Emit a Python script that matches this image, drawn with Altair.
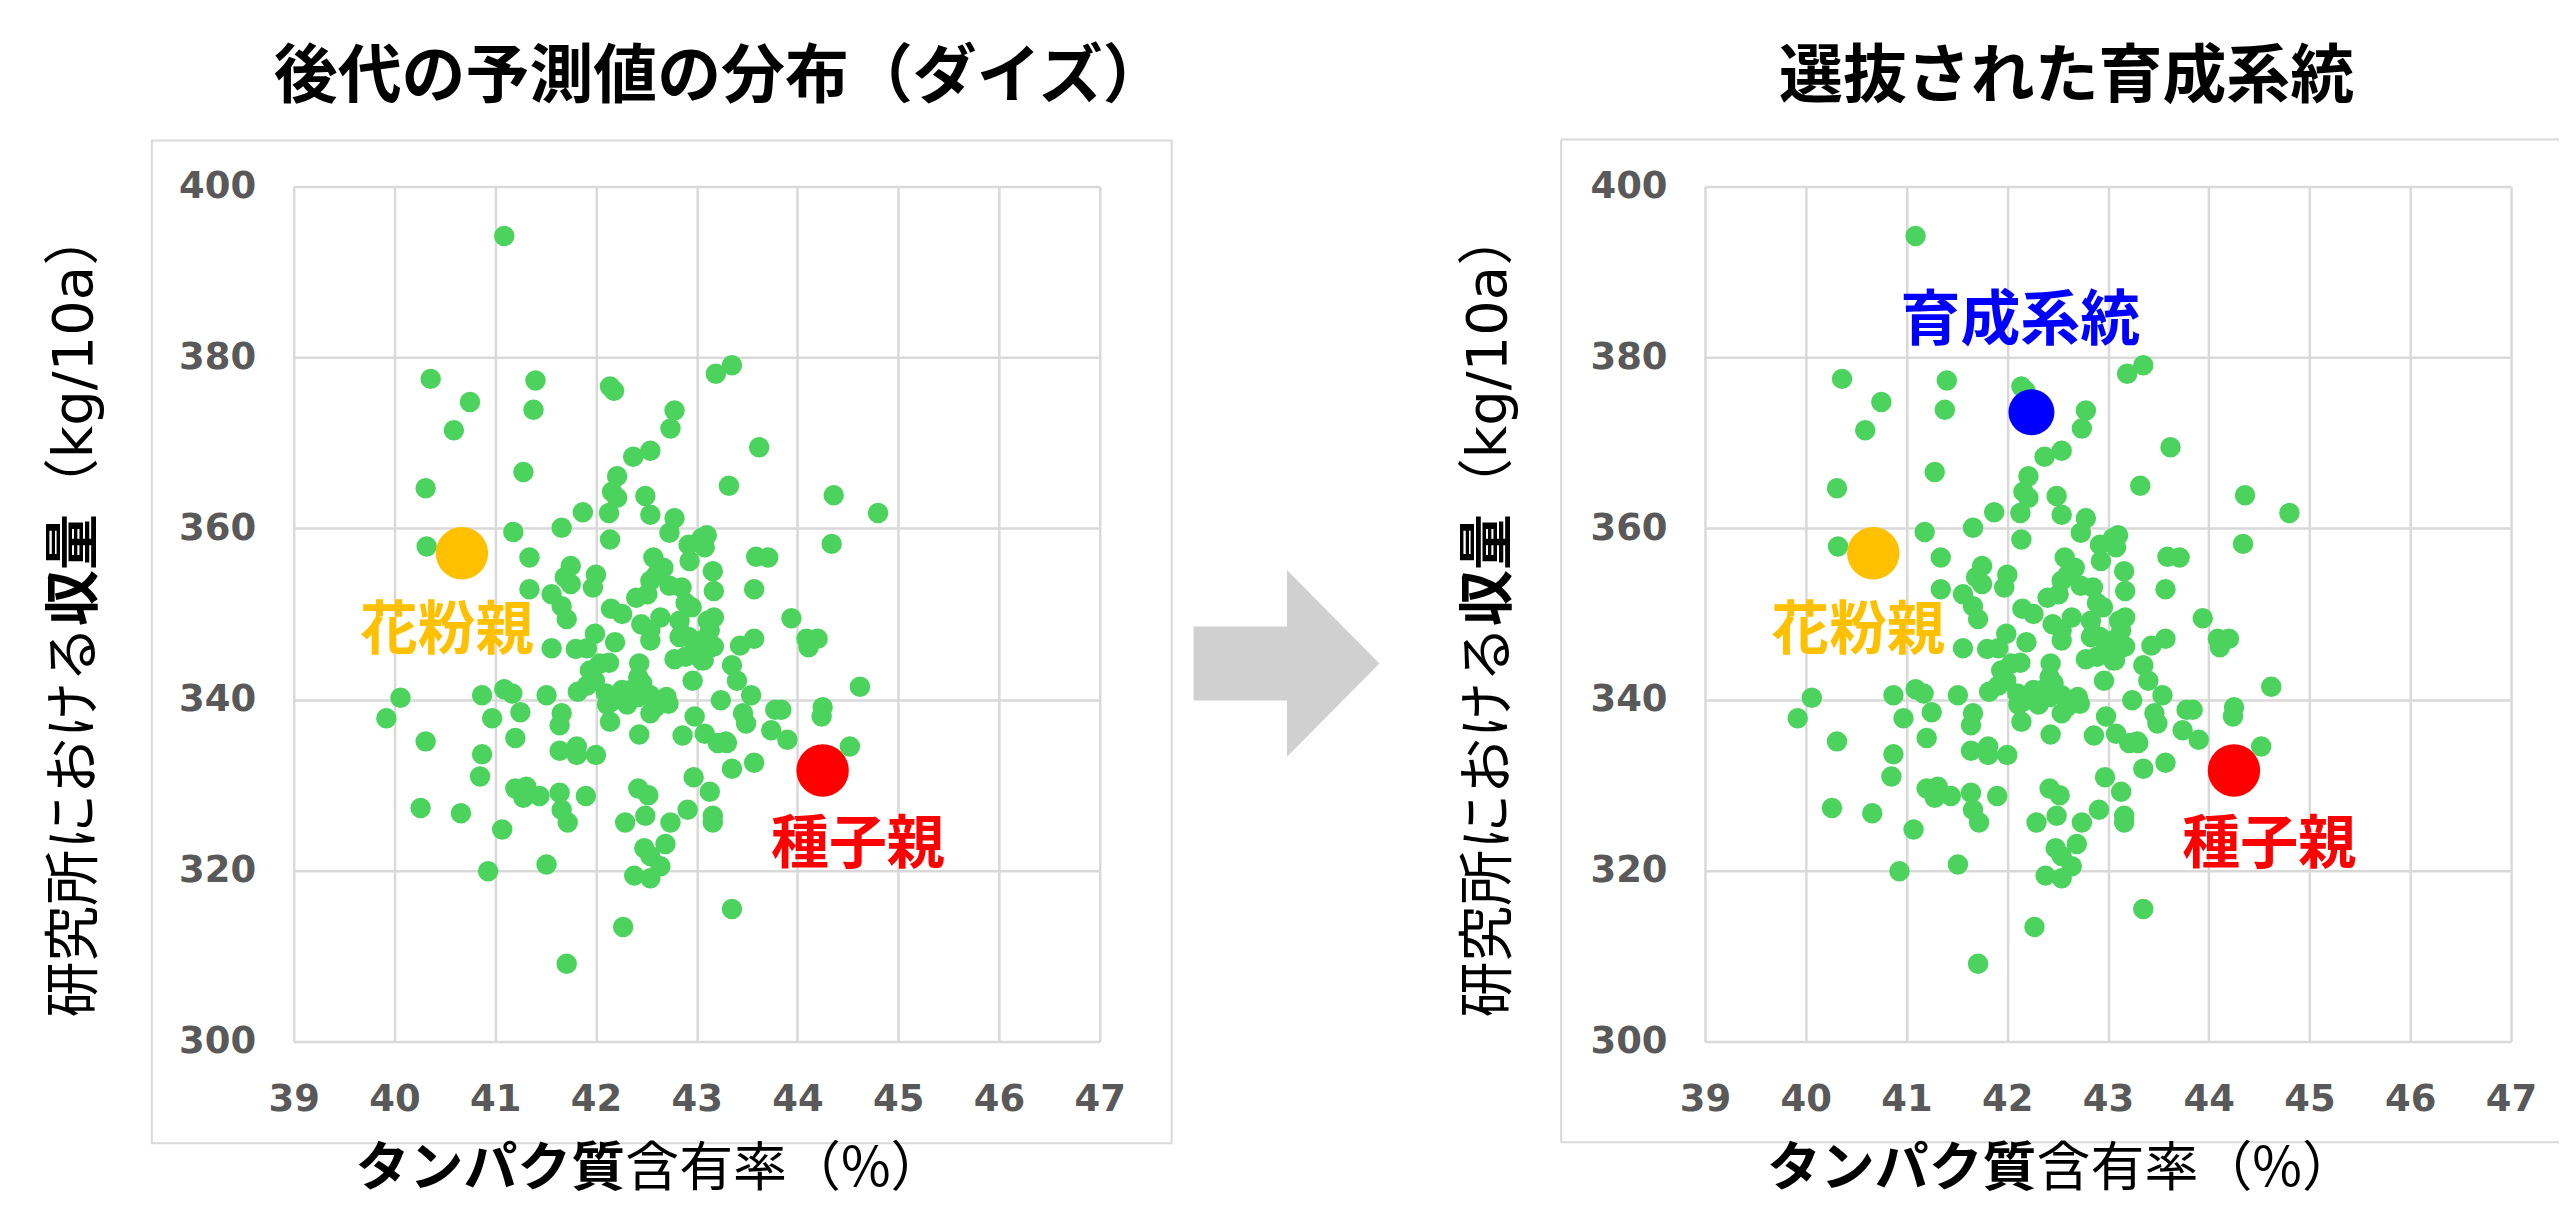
import altair as alt
import pandas as pd

# ---------------- data ----------------
green_x = [41.09, 40.36, 41.40, 43.19, 43.35, 42.14, 42.18, 40.75, 41.38, 42.78,
           42.74, 40.59, 43.62, 42.37, 42.54, 41.28, 40.31, 42.21, 42.16, 42.21,
           42.13, 42.49, 42.54, 43.32, 44.36, 44.80, 41.87, 42.78, 42.73, 41.66,
           41.18, 42.14, 44.34, 40.32, 42.92, 43.05, 43.08, 42.93, 41.34, 42.57,
           42.67, 43.59, 43.71, 41.75, 41.69, 41.75, 42.00, 41.97, 43.16, 43.17,
           41.34, 41.56, 42.54, 42.60, 42.73, 42.85, 43.57, 42.40, 42.51, 42.89,
           42.95, 42.15, 42.26, 41.66, 41.71, 43.94, 42.45, 42.54, 42.64, 42.83,
           42.85, 43.11, 43.17, 43.13, 41.99, 42.19, 42.54, 42.83, 42.92, 43.05,
           43.14, 43.57, 43.43, 44.09, 44.20, 44.11, 41.56, 41.80, 41.91, 42.78,
           42.89, 42.98, 43.05, 42.04, 42.13, 42.43, 43.35, 43.40, 42.96, 42.42,
           42.46, 41.94, 41.99, 41.09, 41.17, 40.87, 41.51, 41.82, 41.91, 42.10,
           42.16, 42.26, 42.35, 42.29, 42.42, 42.54, 42.59, 42.70, 43.24, 43.54,
           43.46, 43.49, 40.06, 39.92, 40.97, 41.25, 41.66, 41.64, 42.14, 42.54,
           42.98, 43.08, 43.78, 43.84, 43.74, 43.90, 44.25, 44.24, 44.62, 40.31,
           41.20, 42.43, 42.86, 43.21, 43.29, 44.52, 40.87, 41.64, 41.81, 41.81,
           42.00, 43.35, 43.57, 40.85, 42.97, 41.20, 41.31, 41.28, 41.44, 41.64,
           41.66, 41.72, 41.90, 42.42, 42.52, 42.49, 43.13, 43.16, 43.16, 42.91,
           40.26, 40.66, 41.07, 42.29, 42.74, 42.48, 42.54, 42.69, 42.64, 42.38,
           42.54, 41.51, 40.93, 43.35, 42.27, 41.71, 42.11, 42.31, 42.72, 43.10,
           43.17, 43.07, 43.30]
green_y = [394.2, 377.5, 377.3, 378.1, 379.1, 376.6, 376.1, 374.8, 373.9, 373.8,
           371.7, 371.5, 369.5, 368.4, 369.1, 366.6, 364.7, 366.1, 364.3, 363.6,
           361.8, 363.8, 361.6, 365.0, 363.9, 361.8, 361.9, 361.2, 359.5, 360.1,
           359.6, 358.7, 358.2, 357.9, 358.1, 358.9, 357.8, 356.2, 356.6, 356.6,
           355.4, 356.7, 356.6, 355.6, 354.3, 353.5, 354.6, 353.1, 355.0, 352.7,
           352.9, 352.3, 353.9, 354.6, 353.3, 353.1, 352.9, 351.9, 352.3, 351.3,
           350.8, 350.6, 350.0, 350.9, 349.4, 349.5, 348.8, 348.1, 349.6, 349.2,
           347.7, 349.2, 349.6, 348.1, 347.7, 346.7, 346.9, 347.3, 347.3, 346.9,
           346.1, 347.1, 346.3, 347.1, 347.1, 346.1, 346.0, 345.9, 346.0, 344.7,
           345.0, 345.3, 344.6, 344.2, 344.3, 344.2, 344.0, 342.2, 342.2, 342.6,
           341.9, 343.4, 342.2, 341.2, 340.7, 340.5, 340.5, 340.9, 341.6, 340.7,
           339.8, 341.1, 341.1, 339.9, 340.3, 340.5, 339.1, 340.3, 339.9, 340.5,
           338.4, 337.2, 340.2, 337.8, 337.8, 338.5, 338.4, 337.0, 337.4, 338.4,
           338.0, 336.0, 338.8, 338.8, 336.4, 335.3, 339.1, 338.0, 341.5, 335.1,
           335.5, 335.9, 335.8, 334.9, 335.1, 334.5, 333.6, 334.0, 334.5, 333.5,
           333.5, 331.9, 332.6, 331.0, 330.9, 329.6, 329.8, 328.5, 328.7, 329.1,
           327.1, 325.6, 328.7, 329.6, 328.8, 326.4, 329.2, 326.4, 325.6, 327.1,
           327.3, 326.7, 324.8, 325.6, 325.6, 322.6, 321.7, 323.1, 320.5, 319.4,
           319.1, 320.7, 319.9, 315.5, 313.4, 309.1, 339.4, 339.4, 339.5, 359.2,
           346.2, 344.6, 334.9]

parent_names = ["花粉親", "種子親"]
parent_x = [40.67, 44.25]
parent_y = [357.1, 331.7]
parent_colors = ["#FFC000", "#FF0000"]
parent_label_x = [40.52, 44.60]
parent_label_y = [347.9, 322.9]

line_name = ["育成系統"]
line_x = [42.24]
line_y = [373.6]
line_label_x = [42.13]
line_label_y = [384.1]

x_ticks = [39, 40, 41, 42, 43, 44, 45, 46, 47]
y_ticks = [300, 320, 340, 360, 380, 400]

titles = ["後代の予測値の分布（ダイズ）", "選抜された育成系統"]
y_title_parts = ["研究所における", "収量", "（", "kg/10a", "）"]
x_title_parts = ["タンパク質", "含有率（%）"]

# ---------------- style ----------------
JP = "Noto Sans CJK JP"
GREEN = "#4BD35E"
GRID = "#D9D9D9"
W, H = 807, 856

green_df = pd.DataFrame({"x": green_x, "y": green_y})
parent_df = pd.DataFrame({"name": parent_names, "x": parent_x, "y": parent_y,
                          "c": parent_colors, "lx": parent_label_x, "ly": parent_label_y})
line_df = pd.DataFrame({"name": line_name, "x": line_x, "y": line_y,
                        "lx": line_label_x, "ly": line_label_y})

xscale = alt.Scale(domain=[39, 47], nice=False, zero=False)
yscale = alt.Scale(domain=[300, 400], nice=False, zero=False)

axis_common = dict(grid=True, gridColor=GRID, gridWidth=2.5, domain=False, ticks=False,
                   labelFont="DejaVu Sans", labelFontWeight="bold", labelColor="#595959",
                   labelFontSize=37, labelFlush=False, labelOverlap=False, title=None,
                   format="d")
xaxis = alt.Axis(values=x_ticks, labelPadding=40, **axis_common)
yaxis = alt.Axis(values=y_ticks, labelPadding=38, **axis_common)


def text_layer(txt, x, y, size, weight="normal", color="black", align="center", angle=0,
               font=JP):
    return alt.Chart(pd.DataFrame({"t": [txt]})).mark_text(
        align=align, baseline="middle", font=font, fontSize=size, fontWeight=weight,
        color=color, angle=angle
    ).encode(x=alt.value(x), y=alt.value(y), text="t:N")


def panel(title, title_x, ytitle_x, left_panel):
    layers = []
    if left_panel:
        # invisible frame fixing the whole picture's extent
        layers.append(alt.Chart(pd.DataFrame({"a": [0]})).mark_rect(opacity=0).encode(
            x=alt.value(-285), x2=alt.value(2268), y=alt.value(-177), y2=alt.value(1019)))
        layers.append(alt.Chart(pd.DataFrame({"a": [0]})).mark_rect(
            fillOpacity=0, stroke=GRID, strokeWidth=2).encode(
            x=alt.value(-142), x2=alt.value(879), y=alt.value(-46), y2=alt.value(958)))
    else:
        box = alt.Chart(pd.DataFrame({"a": [0]}))
        layers.append(box.mark_rule(color=GRID, strokeWidth=2).encode(
            x=alt.value(-144), x2=alt.value(855), y=alt.value(-47)))
        layers.append(box.mark_rule(color=GRID, strokeWidth=2).encode(
            x=alt.value(-144), x2=alt.value(855), y=alt.value(957)))
        layers.append(box.mark_rule(color=GRID, strokeWidth=2).encode(
            x=alt.value(-144), y=alt.value(-47), y2=alt.value(957)))

    base_pts = alt.Chart(green_df).mark_circle(size=420, opacity=1, color=GREEN).encode(
        x=alt.X("x:Q", scale=xscale, axis=xaxis),
        y=alt.Y("y:Q", scale=yscale, axis=yaxis),
    )
    layers.append(base_pts)

    layers.append(alt.Chart(parent_df).mark_circle(size=2750, opacity=1).encode(
        x=alt.X("x:Q", scale=xscale), y=alt.Y("y:Q", scale=yscale),
        color=alt.Color("c:N", scale=None)))
    layers.append(alt.Chart(parent_df).mark_text(
        font=JP, fontSize=58, fontWeight="bold", align="center", baseline="middle").encode(
        x=alt.X("lx:Q", scale=xscale), y=alt.Y("ly:Q", scale=yscale), text="name:N",
        color=alt.Color("c:N", scale=None)))

    if not left_panel:
        layers.append(alt.Chart(line_df).mark_circle(size=2116, opacity=1, color="#0000FF").encode(
            x=alt.X("x:Q", scale=xscale), y=alt.Y("y:Q", scale=yscale)))
        layers.append(alt.Chart(line_df).mark_text(
            font=JP, fontSize=60, fontWeight="bold", align="center", baseline="middle",
            color="#0000FF").encode(
            x=alt.X("lx:Q", scale=xscale), y=alt.Y("ly:Q", scale=yscale), text="name:N"))

    # titles
    layers.append(text_layer(title, title_x, -109, 64, weight="bold"))
    # x axis title (mixed weights)
    layers.append(text_layer(x_title_parts[0], 62, 985, 54, weight="bold", align="left"))
    layers.append(text_layer(x_title_parts[1], 62 + 5 * 54, 985, 54, align="left"))
    # y axis title (rotated, mixed weights)
    y0 = 832
    layers.append(text_layer(y_title_parts[0], ytitle_x, y0, 56, align="left", angle=270))
    y0 -= 7 * 56
    layers.append(text_layer(y_title_parts[1], ytitle_x, y0, 56, weight="bold",
                             align="left", angle=270))
    y0 -= 2 * 56
    layers.append(text_layer(y_title_parts[2], ytitle_x, y0, 56, align="left", angle=270))
    y0 -= 56
    layers.append(text_layer(y_title_parts[3], ytitle_x, y0, 56, align="left", angle=270,
                             font="DejaVu Sans"))
    y0 -= 193
    layers.append(text_layer(y_title_parts[4], ytitle_x, y0, 56, align="left", angle=270))

    if left_panel:
        arrow = "M -0.995 -0.396 L 0.005 -0.396 L 0.005 -1 L 0.995 0 L 0.005 1 L 0.005 0.396 L -0.995 0.396 Z"
        layers.append(alt.Chart(pd.DataFrame({"a": [0]})).mark_point(
            shape=arrow, filled=True, color="#D0D0D0", opacity=1, size=34969, strokeWidth=0).encode(
            x=alt.value(994), y=alt.value(477.5)))

    return alt.layer(*layers).properties(width=W, height=H)


left = panel(titles[0], 427, -219, True)
right = panel(titles[1], 362, -216, False)

chart = alt.hconcat(left, right, spacing=606, bounds="flush").properties(
    padding=0
).configure_view(stroke="transparent").configure(background="white")

chart.save("out.html", embed_options={"renderer": "svg", "actions": False})
